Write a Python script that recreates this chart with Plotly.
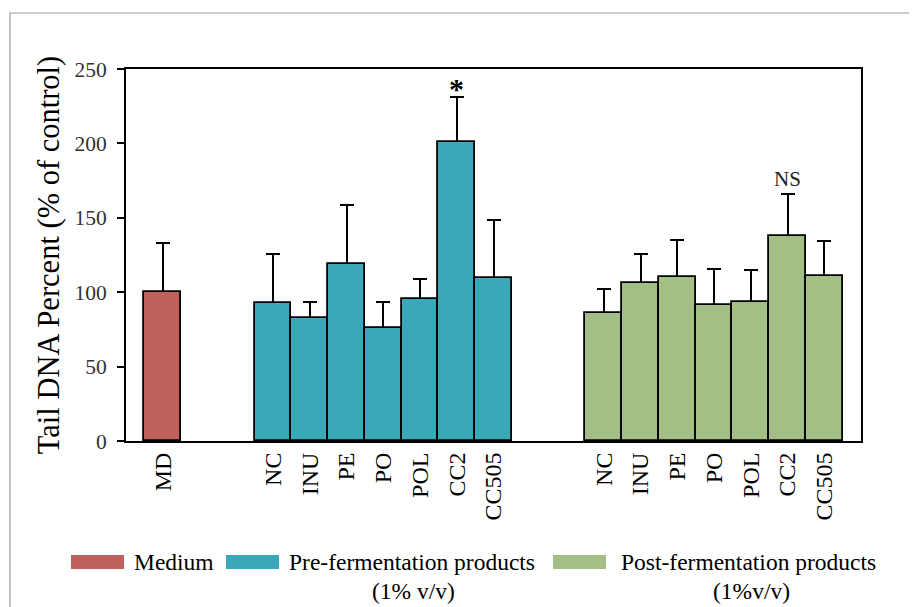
import plotly.graph_objects as go

# ---- data ----
medium_labels = ["MD"]
medium_values = [100.0]
medium_err = [32.9]

pre_labels = ["NC", "INU", "PE", "PO", "POL", "CC2", "CC505"]
pre_values = [92.5, 82.4, 119.2, 75.9, 95.2, 200.7, 109.3]
pre_err = [33.2, 10.8, 39.2, 17.7, 13.5, 30.3, 39.4]

post_labels = ["NC", "INU", "PE", "PO", "POL", "CC2", "CC505"]
post_values = [85.8, 106.0, 110.0, 91.2, 93.4, 137.6, 110.9]
post_err = [16.4, 19.7, 25.1, 24.2, 21.5, 28.2, 23.5]

group_names = ["Medium", "Pre-fermentation products", "Post-fermentation products"]
group_sub = ["", "(1% v/v)", "(1%v/v)"]
colors = ["#C0605A", "#3AA8B8", "#A4BF86"]

FONT = "Liberation Serif"

# x positions (gap of 2 empty slots between groups)
x_med = [0]
x_pre = [3 + i for i in range(len(pre_labels))]
x_post = [12 + i for i in range(len(post_labels))]

groups = [
    (x_med, medium_values, medium_err, colors[0], group_names[0]),
    (x_pre, pre_values, pre_err, colors[1], group_names[1]),
    (x_post, post_values, post_err, colors[2], group_names[2]),
]

fig = go.Figure()
# error bars first (carried by transparent bars) so the visible bars hide the lower caps
for xs, ys, es, col, name in groups:
    fig.add_trace(go.Bar(
        x=xs, y=ys, width=1.0, name=name + " SD",
        marker=dict(color="rgba(0,0,0,0)", line=dict(width=0)),
        error_y=dict(type="data", symmetric=False, array=es,
                     arrayminus=[0] * len(es), color="black",
                     thickness=2, width=7),
        showlegend=False, hoverinfo="skip",
    ))
for xs, ys, es, col, name in groups:
    fig.add_trace(go.Bar(
        x=xs, y=ys, name=name, width=1.0,
        marker=dict(color=col, line=dict(color="black", width=1.8)),
        showlegend=False,
    ))

# significance annotations
cc2_i = pre_labels.index("CC2")
fig.add_annotation(x=x_pre[cc2_i], y=pre_values[cc2_i] + pre_err[cc2_i],
                   text="<b>*</b>", showarrow=False, yanchor="bottom",
                   yshift=-10, font=dict(family=FONT, size=30, color="black"))
cc2_j = post_labels.index("CC2")
fig.add_annotation(x=x_post[cc2_j], y=post_values[cc2_j] + post_err[cc2_j],
                   text="NS", showarrow=False, yanchor="bottom",
                   yshift=1, font=dict(family=FONT, size=21, color="#222"))

# ---- manual legend (wide swatches as in the reference) ----
# plot area in screen pixels: x 126..861, y 69..441
def px_x(p):
    return (p - 126) / 735.0

def px_y(p):
    return (441 - p) / 372.0

sw = [(71, 124), (226, 279), (553, 606)]
tx = [132, 287, 619]
sub_c = [None, 413, 751]
for k in range(3):
    fig.add_shape(type="rect", xref="paper", yref="paper",
                  x0=px_x(sw[k][0]), x1=px_x(sw[k][1]),
                  y0=px_y(569), y1=px_y(555),
                  fillcolor=colors[k], line=dict(width=0))
    fig.add_annotation(xref="paper", yref="paper", x=px_x(tx[k]), y=px_y(562),
                       text=group_names[k], showarrow=False,
                       xanchor="left", yanchor="middle",
                       font=dict(family=FONT, size=23.5, color="black"))
    if group_sub[k]:
        fig.add_annotation(xref="paper", yref="paper", x=px_x(sub_c[k]), y=px_y(591),
                           text=group_sub[k], showarrow=False,
                           xanchor="center", yanchor="middle",
                           font=dict(family=FONT, size=23.5, color="black"))

# outer gray frame
fig.add_shape(type="rect", xref="paper", yref="paper",
              x0=px_x(10), x1=px_x(940), y0=px_y(640), y1=px_y(13),
              line=dict(color="#9a9a9a", width=1.2), fillcolor="rgba(0,0,0,0)",
              layer="below")

# the page body adds an 8px offset; the figure is sized to fit the window
fig.update_layout(
    width=909, height=599,
    margin=dict(l=118, r=56, t=61, b=166),
    paper_bgcolor="white", plot_bgcolor="white",
    barmode="overlay", bargap=0,
    font=dict(family=FONT, color="black"),
    xaxis=dict(
        range=[-1, 19],
        tickvals=x_med + x_pre + x_post,
        ticktext=medium_labels + pre_labels + post_labels,
        tickangle=-90, showgrid=False, zeroline=False,
        showline=True, linecolor="black", linewidth=2, mirror=True,
        ticks="", tickfont=dict(family=FONT, size=24, color="black"),
    ),
    yaxis=dict(
        range=[0, 250], tickvals=[0, 50, 100, 150, 200, 250],
        showgrid=False, zeroline=False,
        showline=True, linecolor="black", linewidth=2, mirror=True,
        ticks="outside", ticklen=7, tickwidth=2, tickcolor="black",
        ticklabelstandoff=6,
        tickfont=dict(family=FONT, size=21.5, color="#333"),
        title=dict(text="Tail DNA Percent (% of control)",
                   font=dict(family=FONT, size=30.5, color="black"), standoff=6),
    ),
)

fig.write_html("out.html")
